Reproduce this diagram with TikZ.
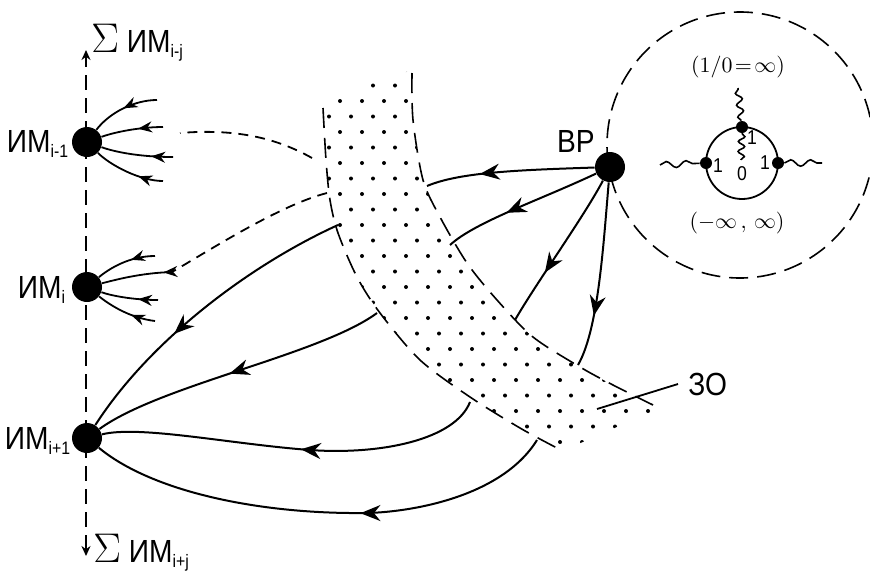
\documentclass[tikz,border=0pt]{standalone}
\usepackage[no-math]{fontspec}
\setmainfont{Liberation Sans}[FakeStretch=0.88]
\usetikzlibrary{arrows.meta,decorations.markings,decorations.pathmorphing}

\newcommand{\imlab}[1]{ИМ\raisebox{-2.5pt}{\fontsize{9}{10}\selectfont #1}}
\newcommand{\sumsign}{{\fontsize{21}{21}\selectfont$\Sigma$}}

\tikzset{
  flow/.style={line width=1pt, decoration={markings, mark=at position #1 with {\arrow{Stealth[length=10pt,width=8pt]}}}, postaction={decorate}},
  twig/.style={line width=0.9pt, decoration={markings, mark=at position #1 with {\arrow{Stealth[length=7pt,width=5.5pt]}}}, postaction={decorate}},
  dot/.style={circle, fill, inner sep=0pt, minimum size=15pt},
  knot/.style={circle, fill, inner sep=0pt, minimum size=6pt},
  zone/.style={line width=0.8pt, dash pattern=on 10pt off 5pt},
  link/.style={line width=0.9pt, dash pattern=on 5pt off 3.5pt},
  wave/.style={line width=0.8pt, decorate, decoration={snake, segment length=#1, amplitude=1.6pt}},
  lab/.style={font=\fontsize{16}{18}\selectfont, inner sep=0pt},
  num/.style={font=\fontsize{10}{12}\selectfont, inner sep=0pt},
}

\begin{document}
\begin{tikzpicture}[x=0.5pt, y=-0.5pt]
\useasboundingbox (0,0) rectangle (870,574);

% zone
\begin{scope}
  \clip plot[smooth] coordinates {(323,100) (326,160) (330,200) (338,233) (357,277) (380,313) (420,360) (470,397) (520,428) (560,452)}
    -- plot[smooth] coordinates {(660,408) (613,385) (580,367) (533,337) (497,300) (467,263) (440,217) (423,180) (413,120) (412,70)}
    -- cycle;
  \foreach \r in {0,...,25}
    \foreach \c in {0,...,16}
      \fill ({318+22*\c+11*mod(\r,2)},{70+15.5*\r}) circle (1pt);
\end{scope}
\draw[zone] plot[smooth] coordinates {(323,108) (326,160) (330,200) (338,233) (357,277) (380,313) (420,360) (470,397) (520,428) (557,448)};
\draw[zone] plot[smooth] coordinates {(412,73) (413,120) (423,180) (440,217) (467,263) (497,300) (533,337) (580,367) (613,385) (653,405)};

% axis
\coordinate (top) at (86,50);
\coordinate (bot) at (86,556);
\draw[line width=0.9pt, dash pattern=on 7.5pt off 4pt, {Stealth[length=5pt,width=4.5pt]}-{Stealth[length=5pt,width=4.5pt]}] (bot) -- (top);
\node[lab, anchor=west] (sumtop) at (91,43) {\sumsign\ \imlab{i-j}};
\node[lab, anchor=west] (sumbot) at (93,553) {\sumsign\ \imlab{i+j}};

% BP circle
\draw[line width=0.8pt, dash pattern=on 9.5pt off 4.5pt] (740,145) circle (66.5pt);
\node at (738,67) {\fontsize{11}{13}\selectfont $(1/0\!=\!\infty)$};
\node at (737,223) {\fontsize{11}{13}\selectfont $(-\infty\,,\,\infty)$};
\draw[line width=0.9pt] (742,163) circle (18pt);
\node[knot] (kl) at (706,163) {};
\node[knot] (kr) at (778,163) {};
\node[knot] (kt) at (742,127) {};
\draw[wave=10pt] (660,165) -- (kl);
\draw[wave=10pt] (kr) -- (822,163);
\draw[wave=6pt] (kt) -- (738,88);
\draw[wave=5pt] (kt) -- (741,160);
\node[num] at (718,166) {1};
\node[num] at (765,163) {1};
\node[num] at (752,138) {1};
\node[num] at (742,174) {0};

% nodes
\node[dot] (im1) at (87,142) {};
\node[dot] (im2) at (87,287) {};
\node[dot] (im3) at (87,438) {};
\node[dot] (bp) at (610,167) {};
\node[lab, anchor=base east] (l1) at ([xshift=-1.5pt,yshift=-5pt]im1.west) {\imlab{i-1}};
\node[lab, anchor=base east] (l2) at ([xshift=-3pt,yshift=-5.5pt]im2.west) {\imlab{i}};
\node[lab, anchor=base east] (l3) at ([xshift=-0.5pt,yshift=-5.5pt]im3.west) {\imlab{i+1}};
\node[lab, anchor=south east] (lbp) at ([xshift=-2pt,yshift=1.5pt]bp.north west) {ВР};
\node[lab, anchor=west] (zo) at (688,384) {ЗО};

% free ends
\coordinate (a1) at (157,100);
\coordinate (a2) at (163,127);
\coordinate (a3) at (173,157);
\coordinate (a4) at (163,181);
\coordinate (b1) at (155,256);
\coordinate (b2) at (172,272);
\coordinate (b3) at (158,300);
\coordinate (b4) at (155,321);
\coordinate (e1) at (180,133);
\coordinate (y1) at (312,158);
\coordinate (y2) at (327,193);
\coordinate (y3) at (338,225);
\coordinate (y4) at (377,313);
\coordinate (y5) at (470,402);
\coordinate (y6) at (537,440);
\coordinate (z1) at (427,186);
\coordinate (z2) at (450,245);
\coordinate (z3) at (515,320);
\coordinate (z4) at (578,365);
\coordinate (zt) at (597,409);

\draw[twig=0.5] (a1) .. controls (135,100) and (110,112) .. (im1);
\draw[twig=0.4] (a2) .. controls (140,127) and (115,132) .. (im1);
\draw[twig=0.3] (a3) .. controls (140,157) and (115,152) .. (im1);
\draw[twig=0.35] (a4) .. controls (140,181) and (110,165) .. (im1);
\draw[twig=0.4] (b1) .. controls (130,256) and (110,268) .. (im2);
\draw[twig=0.12] (b2) .. controls (140,273) and (115,280) .. (im2);
\draw[twig=0.35] (b3) .. controls (135,300) and (112,296) .. (im2);
\draw[twig=0.4] (b4) .. controls (130,318) and (110,305) .. (im2);

\draw[link] (y1) .. controls (280,140) and (240,128) .. (e1);
\draw[link] (y2) .. controls (280,205) and (210,250) .. (b2);

\draw[flow=0.68] (bp) .. controls (520,170) and (460,172) .. (z1);
\draw[flow=0.6] (bp) .. controls (540,200) and (475,222) .. (z2);
\draw[flow=0.66] (bp) .. controls (585,215) and (535,285) .. (z3);
\draw[flow=0.72] (bp) .. controls (603,250) and (598,330) .. (z4);

\draw[flow=0.62] (y3) .. controls (250,265) and (150,340) .. (im3);
\draw[flow=0.53] (y4) .. controls (320,355) and (160,385) .. (im3);
\draw[flow=0.48] (y5) .. controls (455,440) and (380,455) .. (310,450) .. controls (230,444) and (140,425) .. (im3);
\draw[flow=0.42] (y6) .. controls (500,500) and (400,515) .. (350,513) .. controls (250,512) and (150,490) .. (im3);

\draw[line width=0.9pt] (zt) -- ([xshift=-5pt]zo.west);
\end{tikzpicture}
\end{document}
